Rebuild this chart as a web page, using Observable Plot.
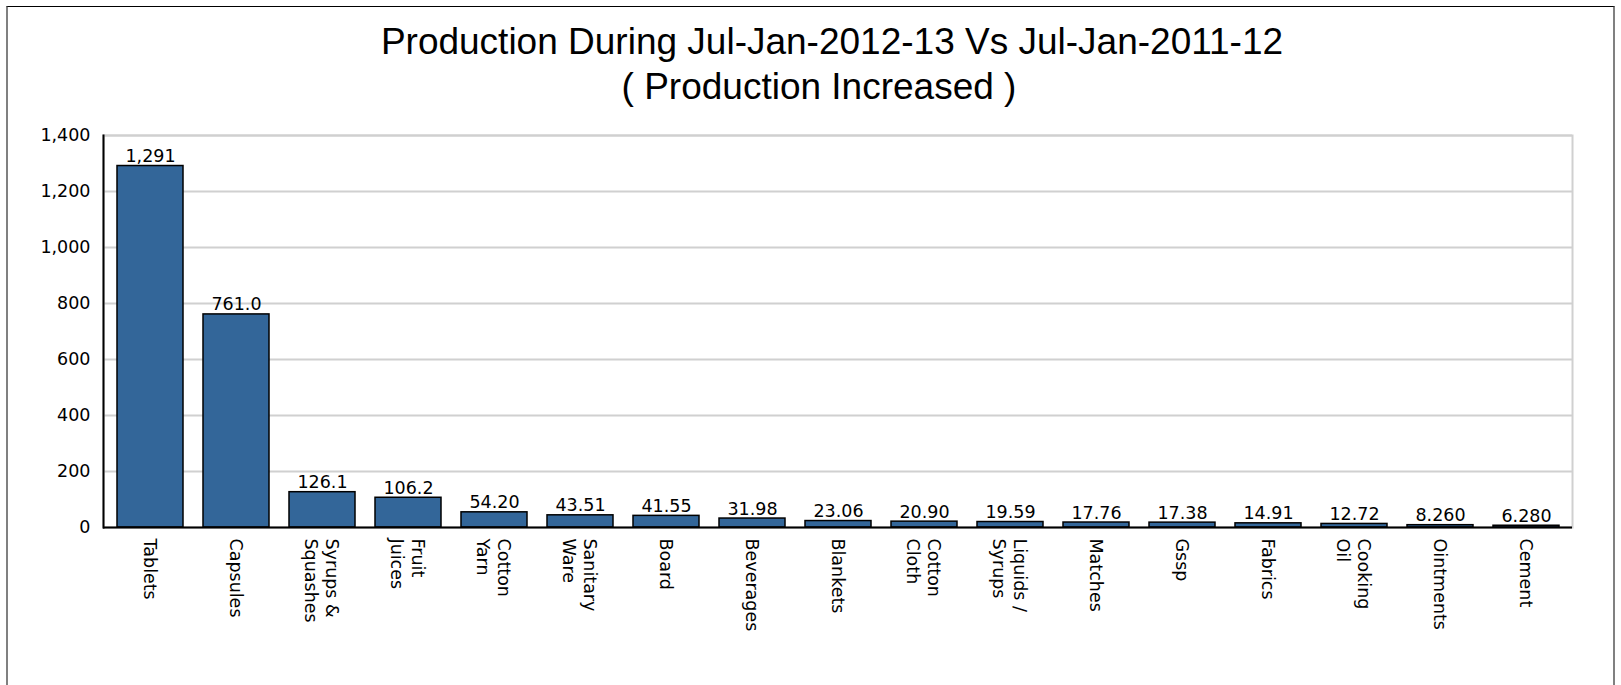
<!DOCTYPE html>
<html>
<head>
<meta charset="utf-8">
<script src="https://cdn.jsdelivr.net/npm/d3@7"></script>
<script src="https://cdn.jsdelivr.net/npm/@observablehq/plot@0.6"></script>
<style>
  html, body { margin: 0; padding: 0; background: #fff; }
  #wrap { position: relative; width: 1621px; height: 685px; overflow: hidden; }
  #border { position: absolute; left: 6px; top: 6px; width: 1605px; height: 700px;
            border-top: 1px solid #000; border-left: 2px solid #808080; border-right: 2px solid #808080;
            pointer-events: none; }
  #title { box-sizing: border-box; width: 1621px; height: 110px; padding-top: 19px;
           font-family: "Liberation Sans", Arial, sans-serif; font-size: 37px;
           line-height: 45px; color: #000; }
  #title div { box-sizing: border-box; text-align: center; white-space: nowrap; }
  #t1 { width: 1664px; }
  #t2 { width: 1638px; }
  #chart svg { display: block; }
</style>
</head>
<body>
<div id="wrap">
  <div id="title"><div id="t1">Production During Jul-Jan-2012-13 Vs Jul-Jan-2011-12</div><div id="t2">( Production Increased )</div></div>
  <div id="chart"></div>
  <div id="border"></div>
</div>
<script>
const categories = ["Tablets", "Capsules", "Syrups & Squashes", "Fruit Juices", "Cotton Yarn",
  "Sanitary Ware", "Board", "Beverages", "Blankets", "Cotton Cloth", "Liquids / Syrups",
  "Matches", "Gssp", "Fabrics", "Cooking Oil", "Ointments", "Cement"];
const tickLabels = ["Tablets", "Capsules", "Syrups &\nSquashes", "Fruit\nJuices", "Cotton\nYarn",
  "Sanitary\nWare", "Board", "Beverages", "Blankets", "Cotton\nCloth", "Liquids /\nSyrups",
  "Matches", "Gssp", "Fabrics", "Cooking\nOil", "Ointments", "Cement"];
const values = [1291, 761.0, 126.1, 106.2, 54.20, 43.51, 41.55, 31.98, 23.06, 20.90, 19.59,
  17.76, 17.38, 14.91, 12.72, 8.260, 6.280];
const yTicks = [0, 200, 400, 600, 800, 1000, 1200, 1400];

const data = categories.map((c, i) => ({category: c, value: values[i], label: tickLabels[i]}));
const valueFmt = d3.format(",.4r");

const chart = Plot.plot({
  width: 1621,
  height: 575,
  marginTop: 25,
  marginBottom: 158,
  marginLeft: 103,
  marginRight: 49,
  style: {fontFamily: "DejaVu Sans, sans-serif", fontSize: "17.5px", color: "#000", background: "transparent"},
  x: {domain: categories, paddingInner: 0.236, paddingOuter: 0.118, axis: null},
  y: {domain: [0, 1400], axis: null},
  marks: [
    Plot.gridY(yTicks, {stroke: "#d0d0d0", strokeOpacity: 1, strokeWidth: 2}),
    Plot.frame({stroke: "#d0d0d0", strokeWidth: 2}),
    Plot.axisY(yTicks, {tickSize: 0, tickPadding: 13, tickFormat: d3.format(","), label: null, fill: "#000"}),
    Plot.barY(data, {x: "category", y: "value", fill: "#336699", stroke: "#000", strokeWidth: 1.5}),
    Plot.ruleY([0], {stroke: "#000", strokeWidth: 2}),
    Plot.frame({anchor: "left", stroke: "#000", strokeWidth: 2}),
    Plot.text(data, {x: "category", y: "value", text: d => valueFmt(d.value), lineAnchor: "bottom", dy: -4, fill: "#000"}),
    Plot.text(data, {x: "category", text: "label", frameAnchor: "bottom", rotate: 90, textAnchor: "start",
      lineAnchor: "middle", dy: 11, lineHeight: 1.2, fill: "#000"})
  ]
});
document.getElementById("chart").appendChild(chart);
</script>
</body>
</html>
